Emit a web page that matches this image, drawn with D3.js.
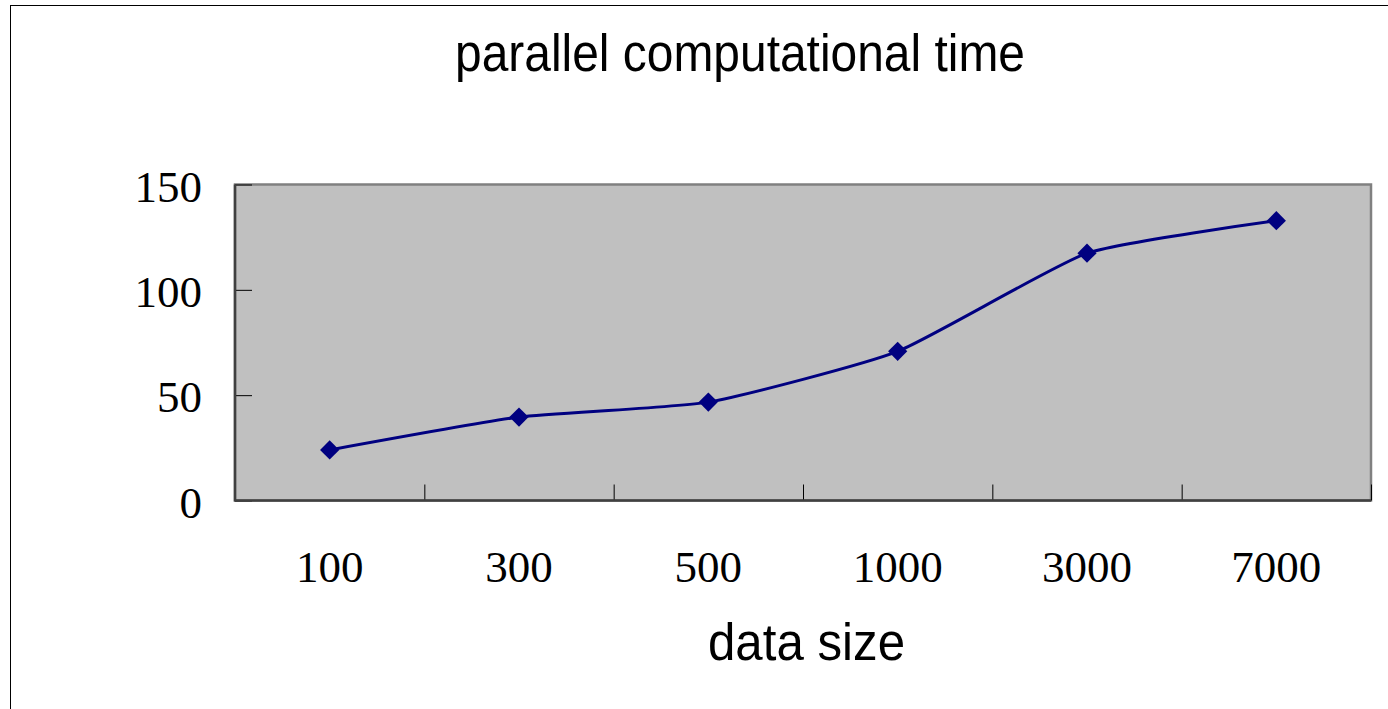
<!DOCTYPE html>
<meta charset="utf-8">
<style>
body, html {
  margin: 0;
  background: #fff;
}
.axis path { display: none; }
.ytick text, .xlab text {
  font-family: "Liberation Serif", "Times New Roman", serif;
  font-size: 45px;
  fill: #000;
}
.ttl {
  font-family: "Liberation Sans", Arial, sans-serif;
  font-size: 51px;
  fill: #000;
}
</style>
<svg></svg>
<script src="https://d3js.org/d3.v7.min.js"></script>
<script>

var sizes = ['100', '300', '500', '1000', '3000', '7000'];
var times = [24, 39.6, 46.7, 70.8, 117.4, 132.8];
var yTicks = [0, 50, 100, 150];

var W = 1388, H = 709;
var plot = {left: 235, right: 1371, top: 184.5, bottom: 500.5};

var svg = d3.select('svg').attr('width', W).attr('height', H);

// outer chart frame (runs off the right edge)
svg.append('rect')
  .attr('x', 10.5).attr('y', 5.5)
  .attr('width', W + 100).attr('height', H + 100)
  .attr('fill', '#fff').attr('stroke', '#000').attr('stroke-width', 1);

var x = d3.scaleBand().domain(sizes).range([plot.left, plot.right]).padding(0);
var xEdge = d3.scaleLinear().domain([0, sizes.length]).range([plot.left, plot.right]);
var y = d3.scaleLinear().domain([0, 150]).range([plot.bottom, plot.top]);

// plot area
svg.append('rect')
  .attr('x', plot.left).attr('y', plot.top)
  .attr('width', plot.right - plot.left).attr('height', plot.bottom - plot.top)
  .attr('fill', '#c0c0c0').attr('stroke', '#808080').attr('stroke-width', 2.5);

// y axis
var gy = svg.append('g')
  .attr('class', 'axis ytick')
  .attr('transform', 'translate(' + plot.left + ',0)')
  .call(d3.axisLeft(y).tickValues(yTicks).tickSize(-17).tickPadding(33));
gy.selectAll('line').attr('stroke', '#000').attr('stroke-width', 1);
gy.selectAll('text').attr('dy', '16.5px');

// x axis: ticks on band edges, labels at centers
var gx = svg.append('g')
  .attr('class', 'axis')
  .attr('transform', 'translate(0,' + plot.bottom + ')')
  .call(d3.axisBottom(xEdge).ticks(sizes.length).tickSize(-16).tickFormat(''));
gx.selectAll('line').attr('stroke', '#000').attr('stroke-width', 1);

var gl = svg.append('g')
  .attr('class', 'axis xlab')
  .attr('transform', 'translate(0,' + plot.bottom + ')')
  .call(d3.axisBottom(x).tickSize(0));
gl.selectAll('text').attr('dy', null).attr('y', 81);

// axis lines
svg.append('line')
  .attr('x1', plot.left).attr('x2', plot.left)
  .attr('y1', plot.top).attr('y2', plot.bottom + 1)
  .attr('stroke', '#404040').attr('stroke-width', 2.5);
svg.append('line')
  .attr('x1', plot.left).attr('x2', plot.right)
  .attr('y1', plot.bottom).attr('y2', plot.bottom)
  .attr('stroke', '#404040').attr('stroke-width', 2.5);

var pts = sizes.map(function (s, i) { return [x(s) + x.bandwidth() / 2, y(times[i])]; });

var line = d3.line().curve(d3.curveCardinal.tension(0.5));

svg.append('path')
  .attr('d', line(pts))
  .attr('fill', 'none')
  .attr('stroke', '#000080')
  .attr('stroke-width', 3);

svg.append('g')
  .selectAll('path')
  .data(pts)
  .enter().append('path')
  .attr('d', d3.symbol().type(d3.symbolSquare).size(185))
  .attr('transform', function (d) { return 'translate(' + d[0] + ',' + d[1] + ') rotate(45)'; })
  .attr('fill', '#000080');

// titles
svg.append('text')
  .attr('class', 'ttl')
  .attr('x', 455).attr('y', 71)
  .attr('textLength', 570).attr('lengthAdjust', 'spacingAndGlyphs')
  .text('parallel computational time');

svg.append('text')
  .attr('class', 'ttl')
  .attr('x', 708).attr('y', 660)
  .attr('textLength', 197).attr('lengthAdjust', 'spacingAndGlyphs')
  .text('data size');

</script>
